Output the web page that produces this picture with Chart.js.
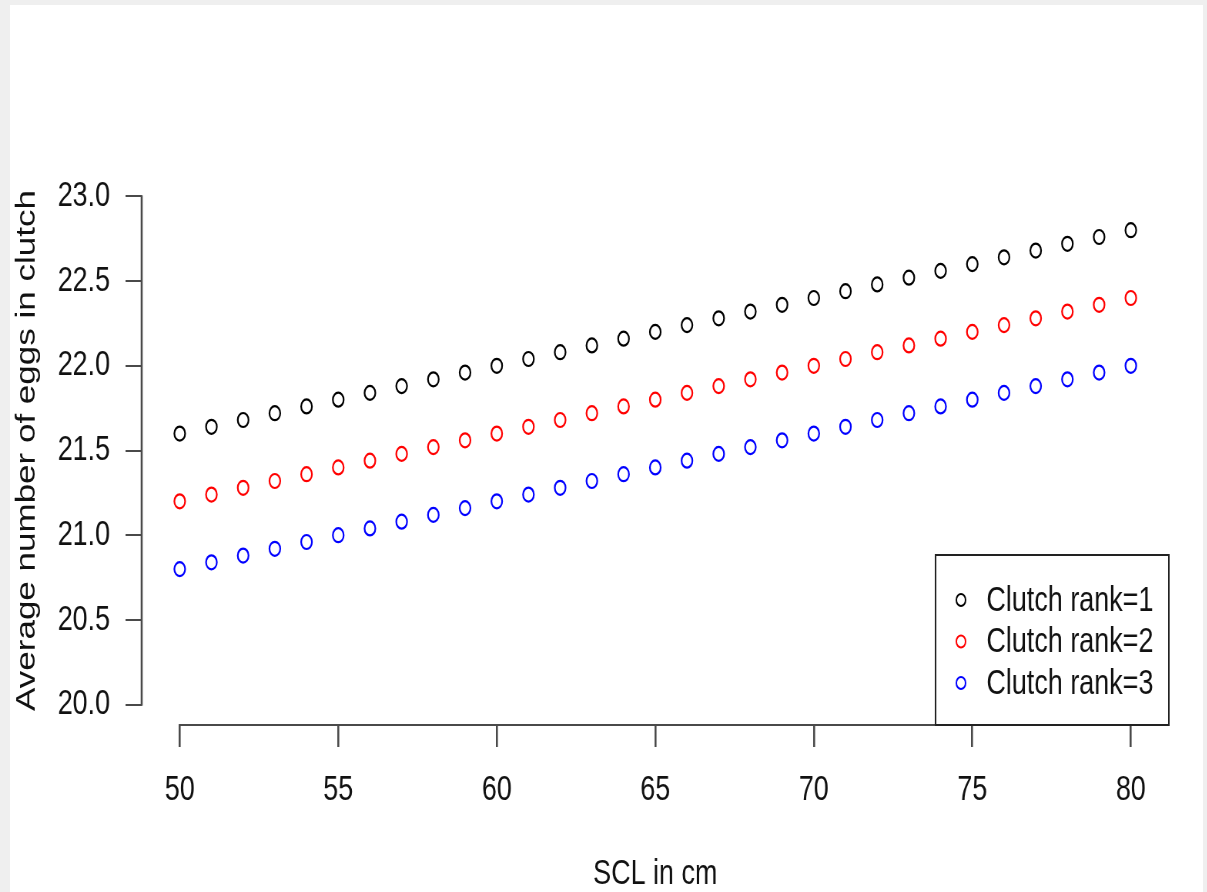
<!DOCTYPE html>
<html>
<head>
<meta charset="utf-8">
<script src="https://cdn.jsdelivr.net/npm/chart.js@4.4.1/dist/chart.umd.min.js"></script>
<style>
  html, body { margin: 0; padding: 0; }
  body { width: 1207px; height: 892px; background: #efefef; position: relative; overflow: hidden; }
  #paper { position: absolute; left: 10px; top: 5px; width: 1193px; height: 887px; background: #fff; }
  /* the reference plot is squeezed horizontally, so draw wide and compress */
  #wrap { position: absolute; left: 0; top: 0; width: 1568px; height: 892px; transform: scaleX(0.77); transform-origin: 0 0; }
</style>
</head>
<body>
<div id="paper"></div>
<div id="wrap"><canvas id="clutchChart" width="1568" height="892"></canvas></div>
<script>
// SCL (cm) for each point
const sclValues = [50, 51, 52, 53, 54, 55, 56, 57, 58, 59, 60, 61, 62, 63, 64, 65,
    66, 67, 68, 69, 70, 71, 72, 73, 74, 75, 76, 77, 78, 79, 80];

// Average number of eggs per clutch rank
const rank1Eggs = [21.60, 21.64, 21.68, 21.72, 21.76, 21.80, 21.84, 21.88, 21.92, 21.96, 22.00,
    22.04, 22.08, 22.12, 22.16, 22.20, 22.24, 22.28, 22.32, 22.36, 22.40,
    22.44, 22.48, 22.52, 22.56, 22.60, 22.64, 22.68, 22.72, 22.76, 22.80];
const rank2Eggs = [21.20, 21.24, 21.28, 21.32, 21.36, 21.40, 21.44, 21.48, 21.52, 21.56, 21.60,
    21.64, 21.68, 21.72, 21.76, 21.80, 21.84, 21.88, 21.92, 21.96, 22.00,
    22.04, 22.08, 22.12, 22.16, 22.20, 22.24, 22.28, 22.32, 22.36, 22.40];
const rank3Eggs = [20.80, 20.84, 20.88, 20.92, 20.96, 21.00, 21.04, 21.08, 21.12, 21.16, 21.20,
    21.24, 21.28, 21.32, 21.36, 21.40, 21.44, 21.48, 21.52, 21.56, 21.60,
    21.64, 21.68, 21.72, 21.76, 21.80, 21.84, 21.88, 21.92, 21.96, 22.00];

const seriesLabels = ['Clutch rank=1', 'Clutch rank=2', 'Clutch rank=3'];
const seriesColors = ['#000000', '#ff0000', '#0000ff'];

// Tick labels
const xTicks = [50, 55, 60, 65, 70, 75, 80];
const yTicks = [20.0, 20.5, 21.0, 21.5, 22.0, 22.5, 23.0];

const FONT = "'Liberation Sans', Arial, sans-serif";
const AXIS_COLOR = '#4a4a4a';

const seriesValues = [rank1Eggs, rank2Eggs, rank3Eggs];
const datasets = seriesValues.map((vals, i) => ({
    label: seriesLabels[i],
    data: sclValues.map((x, j) => ({ x: x, y: vals[j] })),
    borderColor: seriesColors[i],
    backgroundColor: 'rgba(0,0,0,0)',
    pointRadius: 7,
    pointBorderWidth: 2.2,
    showLine: false
}));

// R style axes: lines only span the first to the last tick
const rAxesPlugin = {
    id: 'rAxes',
    afterDraw(chart) {
        const ctx = chart.ctx;
        const xs = chart.scales.x, ys = chart.scales.y;
        const area = chart.chartArea;
        ctx.save();
        ctx.strokeStyle = AXIS_COLOR;
        ctx.lineCap = 'butt';
        // y axis
        ctx.lineWidth = 2.6;
        ctx.beginPath();
        ctx.moveTo(area.left, ys.getPixelForValue(yTicks[0]) + 1);
        ctx.lineTo(area.left, ys.getPixelForValue(yTicks[yTicks.length - 1]) - 1);
        ctx.stroke();
        // x axis
        ctx.lineWidth = 2;
        ctx.beginPath();
        ctx.moveTo(xs.getPixelForValue(xTicks[0]) - 1.3, area.bottom);
        ctx.lineTo(xs.getPixelForValue(xTicks[xTicks.length - 1]) + 1.3, area.bottom);
        ctx.stroke();

        // legend box in the bottom right corner
        const boxW = 303, boxH = 170;
        const bx = area.right - boxW, by = area.bottom - boxH;
        ctx.fillStyle = '#ffffff';
        ctx.fillRect(bx, by, boxW, boxH);
        ctx.strokeStyle = '#222222';
        ctx.lineWidth = 2;
        ctx.strokeRect(bx, by, boxW, boxH);
        ctx.font = '35px ' + FONT;
        ctx.textBaseline = 'middle';
        ctx.textAlign = 'left';
        chart.data.datasets.forEach((ds, i) => {
            const cy = by + 45 + i * 41.5;
            ctx.strokeStyle = ds.borderColor;
            ctx.lineWidth = 2;
            ctx.beginPath();
            ctx.arc(bx + 33, cy, 6, 0, Math.PI * 2);
            ctx.stroke();
            ctx.fillStyle = '#111111';
            ctx.fillText(ds.label, bx + 66, cy + 1);
        });
        ctx.restore();
    }
};

window.onload = function() {
    const ctx = document.getElementById('clutchChart').getContext('2d');
    new Chart(ctx, {
        type: 'scatter',
        data: { datasets: datasets },
        options: {
            responsive: false,
            animation: false,
            devicePixelRatio: 1,
            layout: { padding: { top: 176, right: 50, left: 0, bottom: 0 }, autoPadding: false },
            plugins: { legend: { display: false }, tooltip: { enabled: false } },
            scales: {
                x: {
                    type: 'linear',
                    min: 48.8,
                    max: 81.2,
                    afterBuildTicks: (scale) => { scale.ticks = xTicks.map(v => ({ value: v })); },
                    afterFit: (scale) => { scale.height = 167; },
                    border: { display: false },
                    grid: { drawOnChartArea: false, drawTicks: true, tickLength: 22, color: AXIS_COLOR, lineWidth: 2.6 },
                    ticks: { padding: 22, color: '#111111', font: { family: FONT, size: 35 }, maxRotation: 0, autoSkip: false },
                    title: { display: true, text: 'SCL in cm', color: '#111111', font: { family: FONT, size: 35, lineHeight: 1 }, padding: { top: 0, bottom: 0 } }
                },
                y: {
                    type: 'linear',
                    min: 19.88,
                    max: 23.12,
                    afterBuildTicks: (scale) => { scale.ticks = yTicks.map(v => ({ value: v })); },
                    afterFit: (scale) => { scale.width = 184; },
                    border: { display: false },
                    grid: { drawOnChartArea: false, drawTicks: true, tickLength: 21, color: AXIS_COLOR, lineWidth: 2 },
                    ticks: {
                        padding: 20, color: '#111111', font: { family: FONT, size: 35 }, autoSkip: false,
                        callback: (value) => Number(value).toFixed(1)
                    },
                    title: { display: true, text: 'Average number of eggs in clutch', color: '#111111', font: { family: FONT, size: 35 }, padding: { top: 14, bottom: 0 } }
                }
            }
        },
        plugins: [rAxesPlugin]
    });
};
</script>
</body>
</html>
